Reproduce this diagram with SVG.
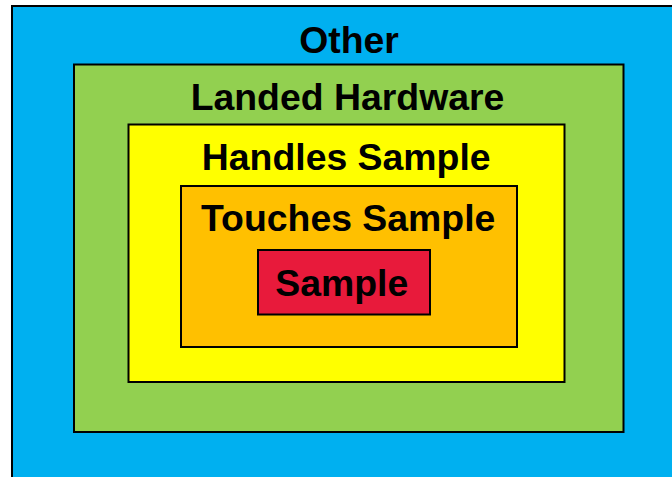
<svg xmlns="http://www.w3.org/2000/svg" width="672" height="477" viewBox="0 0 672 477">
<style>
.box{stroke:#000;stroke-width:2}
.lbl{font-family:"Liberation Sans",Arial,sans-serif;font-weight:bold;font-size:37.4px;text-anchor:middle;fill:#000}
</style>
<rect width="672" height="477" fill="#fff"/>
<g id="other">
<rect class="box" x="12" y="6" width="680" height="490" fill="#00B0F0"/>
<text class="lbl" x="349" y="53">Other</text>
</g>
<g id="landed-hardware">
<rect class="box" x="74" y="64.5" width="549.5" height="367.5" fill="#92D050"/>
<text class="lbl" x="347.5" y="110">Landed Hardware</text>
</g>
<g id="handles-sample">
<rect class="box" x="128.5" y="124.5" width="436" height="257.5" fill="#FFFF00"/>
<text class="lbl" x="346.2" y="170">Handles Sample</text>
</g>
<g id="touches-sample">
<rect class="box" x="181" y="186" width="336" height="161" fill="#FFC000"/>
<text class="lbl" x="348.2" y="231">Touches Sample</text>
</g>
<g id="sample">
<rect class="box" x="258" y="250" width="172" height="64.5" fill="#E81A3B"/>
<text class="lbl" x="341.7" y="295.5">Sample</text>
</g>
<g id="connectors"/>
</svg>
